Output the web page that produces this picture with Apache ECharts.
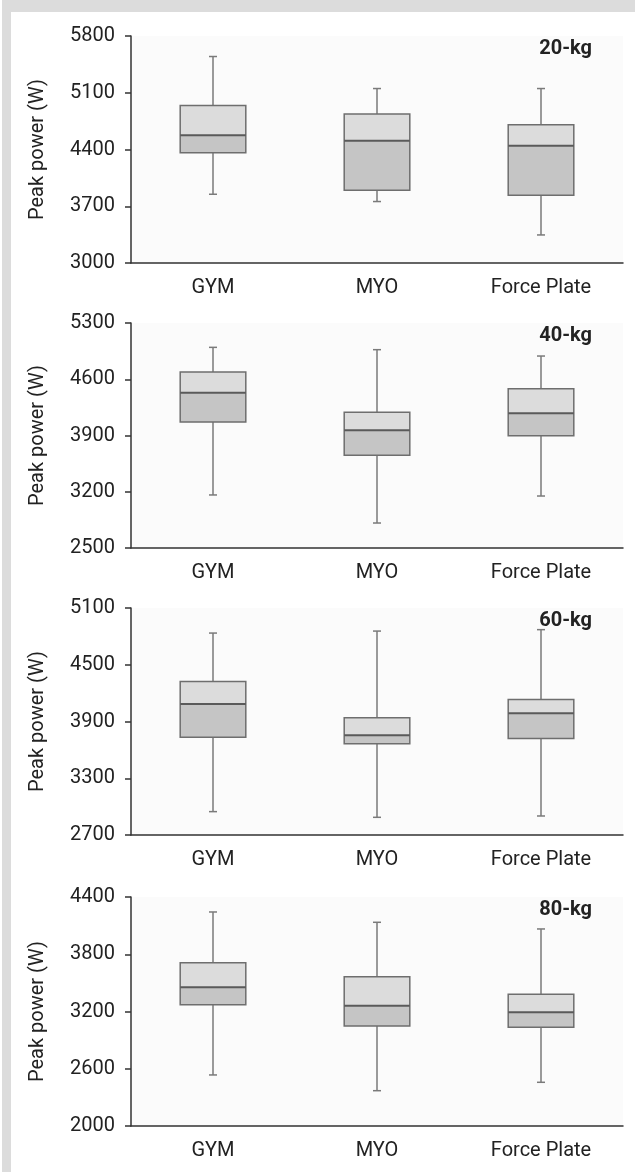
<!DOCTYPE html>
<html>
<head>
<meta charset="utf-8">
<script src="https://cdn.jsdelivr.net/npm/echarts@6/dist/echarts.min.js"></script>
<style>
html, body { margin: 0; padding: 0; background: #fff; }
#main { width: 635px; height: 1172px; }
</style>
</head>
<body>
<div id="main"></div>
<script>
var categories = ['GYM', 'MYO', 'Force Plate'];

// each box: [min, Q1, median, Q3, max]
var box20 = [[3848, 4361, 4577, 4944, 5547], [3758, 3897, 4508, 4838, 5152], [3346, 3835, 4447, 4704, 5152]];
var box40 = [[3160, 4068, 4433, 4690, 4997], [2811, 3653, 3964, 4188, 4968], [3147, 3898, 4176, 4483, 4889]];
var box60 = [[2947, 3734, 4084, 4324, 4835], [2887, 3664, 3755, 3939, 4856], [2901, 3720, 3988, 4133, 4871]];
var box80 = [[2535, 3272, 3453, 3712, 4243], [2370, 3048, 3261, 3565, 4135], [2458, 3034, 3191, 3380, 4065]];

var ticks20 = [3000, 3700, 4400, 5100, 5800];
var ticks40 = [2500, 3200, 3900, 4600, 5300];
var ticks60 = [2700, 3300, 3900, 4500, 5100];
var ticks80 = [2000, 2600, 3200, 3800, 4400];

var labels = ['20-kg', '40-kg', '60-kg', '80-kg'];
var boxes = [box20, box40, box60, box80];
var ticks = [ticks20, ticks40, ticks60, ticks80];
var tops = [36, 323, 608, 897];
var heights = [227, 225, 227, 229];

var font = 'Roboto, "Noto Sans", sans-serif';
var axisColor = '#333';

function renderBox(params, api) {
    var i = api.value(0);
    var lo = api.coord([i, api.value(1)]);
    var q1 = api.coord([i, api.value(2)]);
    var md = api.coord([i, api.value(3)]);
    var q3 = api.coord([i, api.value(4)]);
    var hi = api.coord([i, api.value(5)]);
    var x = lo[0];
    var hw = api.size([1, 0])[0] * 0.2;
    var cw = 4;
    var ws = { stroke: '#7a7a7a', lineWidth: 1.5 };
    return {
        type: 'group',
        children: [
            { type: 'line', shape: { x1: x, y1: hi[1], x2: x, y2: q3[1] }, style: ws },
            { type: 'line', shape: { x1: x, y1: q1[1], x2: x, y2: lo[1] }, style: ws },
            { type: 'line', shape: { x1: x - cw, y1: hi[1], x2: x + cw, y2: hi[1] }, style: ws },
            { type: 'line', shape: { x1: x - cw, y1: lo[1], x2: x + cw, y2: lo[1] }, style: ws },
            { type: 'rect', shape: { x: x - hw, y: md[1], width: 2 * hw, height: q1[1] - md[1] }, style: { fill: '#c5c5c5' } },
            { type: 'rect', shape: { x: x - hw, y: q3[1], width: 2 * hw, height: md[1] - q3[1] }, style: { fill: '#dcdcdc' } },
            { type: 'rect', shape: { x: x - hw, y: q3[1], width: 2 * hw, height: q1[1] - q3[1] }, style: { fill: 'none', stroke: '#6e6e6e', lineWidth: 1.5 } },
            { type: 'line', shape: { x1: x - hw, y1: md[1], x2: x + hw, y2: md[1] }, style: { stroke: '#5a5a5a', lineWidth: 2 } }
        ]
    };
}

var grid = [], xAxis = [], yAxis = [], series = [], graphic = [];

// grey frame on the left and top
graphic.push({ type: 'rect', left: 2, top: 0, shape: { width: 9, height: 1172 }, style: { fill: '#dcdcdc' } });
graphic.push({ type: 'rect', left: 2, top: 0, shape: { width: 633, height: 12 }, style: { fill: '#dcdcdc' } });

for (var p = 0; p < 4; p++) {
    var t = ticks[p];
    grid.push({
        left: 131, right: 12, top: tops[p], height: heights[p],
        show: true, backgroundColor: '#fbfbfb', borderWidth: 0
    });
    xAxis.push({
        type: 'category', gridIndex: p, data: categories,
        axisLine: { lineStyle: { color: axisColor, width: 1.5 } },
        axisTick: { length: 6, lineStyle: { color: axisColor, width: 1.5 } },
        axisLabel: { color: '#222', fontSize: 20, fontFamily: font, margin: 15 }
    });
    yAxis.push({
        type: 'value', gridIndex: p, min: t[0], max: t[t.length - 1],
        name: 'Peak power (W)', nameLocation: 'middle', nameGap: 83,
        nameTextStyle: { color: '#222', fontSize: 20, fontFamily: font },
        splitLine: { show: false },
        axisLine: { show: true, lineStyle: { color: axisColor, width: 1.5 } },
        axisTick: { show: true, length: 6, customValues: t, lineStyle: { color: axisColor, width: 1.5 } },
        axisLabel: {
            color: '#222', fontSize: 20, fontFamily: font, margin: 16, customValues: t,
            formatter: function (v) { return String(v); }
        }
    });
    series.push({
        type: 'custom', xAxisIndex: p, yAxisIndex: p,
        renderItem: renderBox,
        encode: { x: 0, y: [1, 2, 3, 4, 5] },
        data: boxes[p].map(function (b, i) { return [i].concat(b); }),
        z: 3
    });
    graphic.push({
        type: 'text', right: 43, top: tops[p] + 3,
        style: { text: labels[p], font: 'bold 20px ' + font, fill: '#222' }
    });
}

var chart = echarts.init(document.getElementById('main'));
chart.setOption({
    animation: false,
    grid: grid,
    xAxis: xAxis,
    yAxis: yAxis,
    series: series,
    graphic: graphic
});
</script>
</body>
</html>
